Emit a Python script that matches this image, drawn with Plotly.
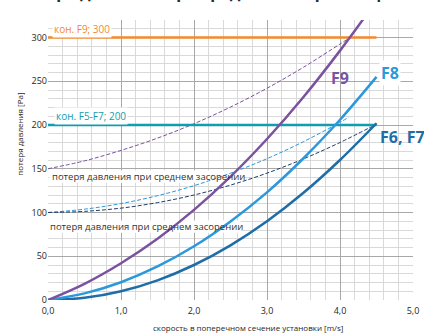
import plotly.graph_objects as go

# ---- data ----
x_main = [0.0, 0.5, 1.0, 1.5, 2.0, 2.5, 3.0, 3.5, 4.0, 4.5]
f9 = [0, 18.5, 42, 70, 103, 141, 184, 232, 285, 342]
f8 = [0, 7.6, 20.3, 38.3, 61.4, 89.8, 123, 162, 206, 255]
f67 = [0, 2.5, 10, 22.5, 40, 62.5, 90, 122.5, 160, 202]

x_d9 = [0.0, 0.5, 1.0, 1.5, 2.0, 2.5, 3.0, 3.5, 4.0, 4.14]
d9 = [150, 159, 171, 185, 201.5, 220.5, 242, 266, 292.5, 300]
x_d8 = [0.0, 0.5, 1.0, 1.5, 2.0, 2.5, 3.0, 3.5, 4.0, 4.12]
d8 = [100, 103.8, 110.2, 119.2, 130.7, 144.9, 161.5, 181, 203, 209]
x_d67 = [0.0, 0.5, 1.0, 1.5, 2.0, 2.5, 3.0, 3.5, 4.0, 4.5]
d67 = [100, 101.3, 105, 111.3, 120, 131.3, 145, 161.3, 180, 201]

limit_x = [0.0, 4.5]
limit_f9 = [300, 300]
limit_f57 = [200, 200]

x_ticks = [0, 1, 2, 3, 4, 5]
y_ticks = [0, 50, 100, 150, 200, 250, 300]

PURPLE = "#7b529e"
LBLUE = "#2b98dc"
DBLUE = "#1e6da6"
NAVY = "#1f3d6b"
ORANGE = "#f28a2a"
TEAL = "#139cae"
FONT = "Open Sans"

fig = go.Figure()

def line(x, y, color, width, dash="solid"):
    fig.add_trace(go.Scatter(x=x, y=y, mode="lines",
                             line=dict(color=color, width=width, dash=dash, shape="spline"),
                             showlegend=False, hoverinfo="skip"))

line(x_d9, d9, PURPLE, 1, "4px,2px")
line(x_d8, d8, LBLUE, 1, "4px,2px")
line(x_d67, d67, NAVY, 1, "4px,2px")
line(limit_x, limit_f9, ORANGE, 2.5)
line(limit_x, limit_f57, TEAL, 2.5)
line(x_main, f67, DBLUE, 2.5)
line(x_main, f8, LBLUE, 2.5)
line(x_main, f9, PURPLE, 2.5)

# white boxes behind "потеря..." texts (between grid and traces)
for (x0, x1, y0, y1) in [(0.02, 2.68, 134, 148), (0.0, 2.64, 77, 91)]:
    fig.add_shape(type="rect", x0=x0, x1=x1, y0=y0, y1=y1, xref="x", yref="y",
                  fillcolor="white", line=dict(width=0), layer="between")

def ann(text, x, y, color, size, bold=False, bg=None, xanchor="left", **kw):
    t = f"<b>{text}</b>" if bold else text
    fig.add_annotation(text=t, x=x, y=y, xref="x", yref="y", showarrow=False,
                       xanchor=xanchor, yanchor="middle",
                       font=dict(color=color, size=size, family=FONT),
                       bgcolor=bg, borderpad=1, **kw)

ann("кон. F9; 300", 0.06, 310, ORANGE, 10, bg="white")
ann("кон. F5-F7; 200", 0.08, 210, TEAL, 10, bg="white")
ann("потеря давления при среднем засорении", 0.03, 141, "#333333", 9.5)
ann("потеря давления при среднем засорении", 0.0, 84, "#333333", 9.5)
ann("F9", 4.0, 254, PURPLE, 16, bold=True, xanchor="center")
ann("F8", 4.68, 260, LBLUE, 16, bold=True, bg="white", xanchor="center")
ann("F6, F7", 4.52, 186, DBLUE, 16, bold=True)

# axis titles
fig.add_annotation(text="потеря давления [Pa]", xref="paper", yref="paper",
                   x=-0.098, y=0.593, textangle=-90, showarrow=False,
                   font=dict(size=8, color="#262626", family=FONT))
fig.add_annotation(text="скорость в поперечном сечение установки [m/s]", xref="paper", yref="paper",
                   x=0.548, y=-0.097, showarrow=False, yanchor="middle",
                   font=dict(size=8, color="#262626", family=FONT))
# chart title (cut off at the top edge, as in the reference)
fig.add_annotation(text="<b>Потеря давления при среднем засорении фильтра</b>", xref="paper", yref="paper",
                   x=0.5, y=1.055, yanchor="bottom", showarrow=False,
                   font=dict(size=16, color="#262626", family=FONT))

fig.update_xaxes(range=[0, 5], tickvals=x_ticks, tickformat=".1f", automargin=False,
                 showgrid=True, gridcolor="#a8a8a8", gridwidth=1,
                 minor=dict(dtick=0.2, showgrid=True, gridcolor="#d9d9d9", gridwidth=1),
                 zeroline=False, showline=False, ticks="", ticklabelstandoff=4,
                 tickfont=dict(size=9, color="#262626", family=FONT))
fig.update_yaxes(range=[0, 320], tickvals=y_ticks, automargin=False,
                 showgrid=True, gridcolor="#a8a8a8", gridwidth=1,
                 minor=dict(dtick=10, showgrid=True, gridcolor="#d9d9d9", gridwidth=1),
                 zeroline=False, showline=False, ticks="",
                 tickfont=dict(size=9, color="#262626", family=FONT))

fig.update_layout(width=424, height=336, margin=dict(l=48, r=11, t=20, b=36, autoexpand=False),
                  plot_bgcolor="white", paper_bgcolor="white",
                  separators=", ", showlegend=False)

fig.write_html("out.html", config={"displayModeBar": False},
               post_script="document.body.style.margin='0';")
